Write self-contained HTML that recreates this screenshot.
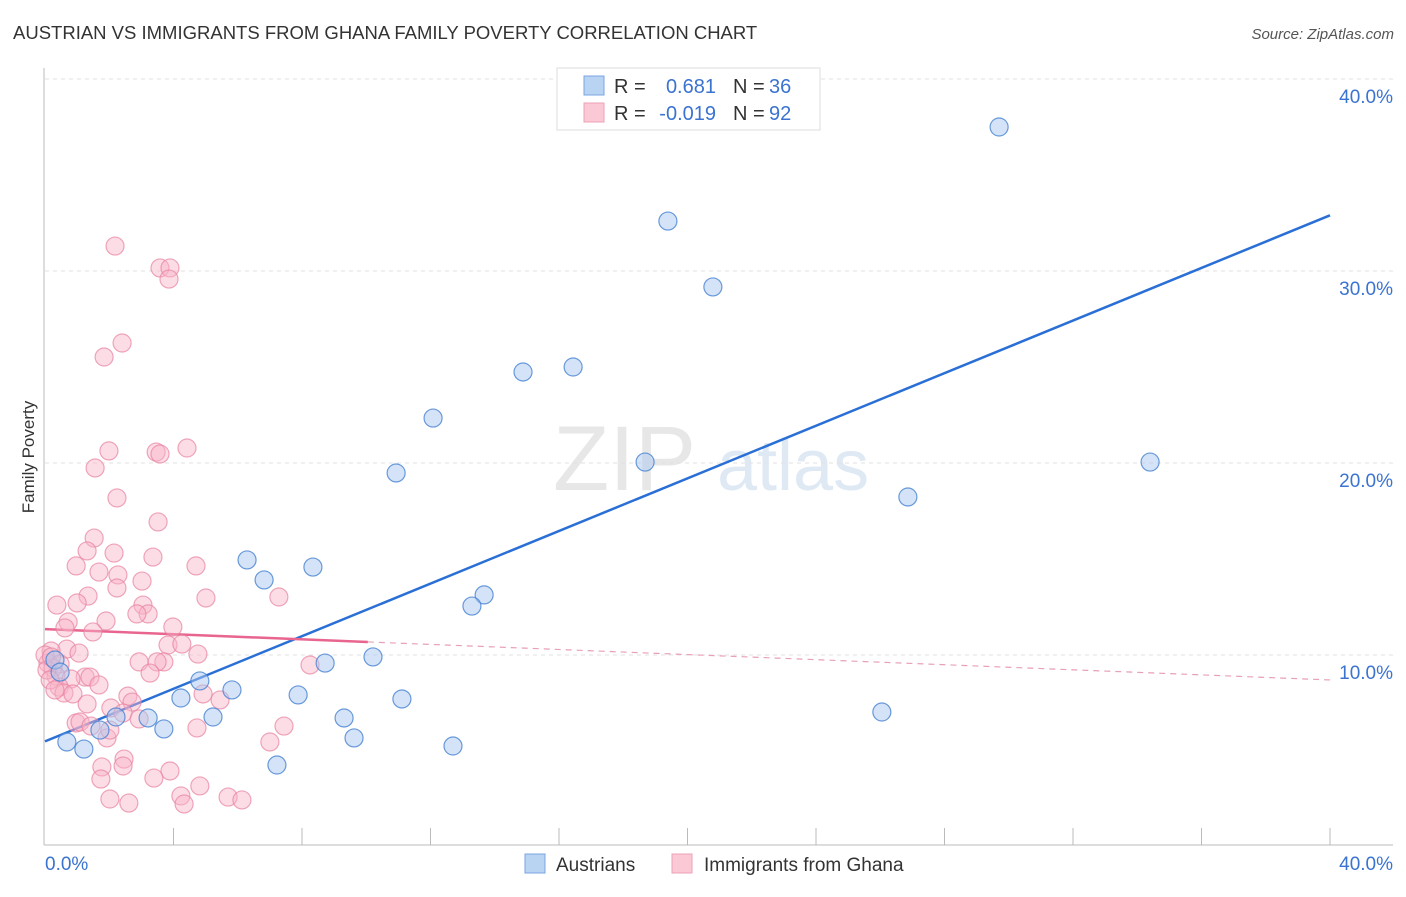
<!DOCTYPE html>
<html><head><meta charset="utf-8"><style>
body{margin:0;background:#fff;font-family:"Liberation Sans",sans-serif;}
svg text{font-family:"Liberation Sans",sans-serif;}
</style></head><body>
<svg id="chart" width="1406" height="892" xmlns="http://www.w3.org/2000/svg">
<text x="13" y="39" font-size="18.5" fill="#333">AUSTRIAN VS IMMIGRANTS FROM GHANA FAMILY POVERTY CORRELATION CHART</text>
<text x="1394" y="39" font-size="15" fill="#555" font-style="italic" text-anchor="end">Source: ZipAtlas.com</text>
<text transform="translate(34,457) rotate(-90)" font-size="17" fill="#333" text-anchor="middle">Family Poverty</text>
<g opacity="0.45">
<text x="553" y="490" font-size="92" fill="#ccc" font-family="Liberation Serif,serif">ZIP</text>
<text x="717" y="490" font-size="72" fill="#b8cfe8">atlas</text>
</g>
<g id="grid"></g>
<g id="axes"></g>
<g id="lines"></g>
<g id="points"></g>
<g>
<rect x="557" y="68" width="263" height="62" fill="#fff" stroke="#ddd"/>
<rect x="584" y="76" width="20" height="19" fill="#b9d3f3" stroke="#7aa6e0"/>
<rect x="584" y="103" width="20" height="19" fill="#fbc8d6" stroke="#eea0b6"/>
<text x="614" y="93" font-size="20" fill="#333">R =</text>
<text x="716" y="93" font-size="20" fill="#3a73d0" text-anchor="end">0.681</text>
<text x="733" y="93" font-size="20" fill="#333">N =</text>
<text x="769" y="93" font-size="20" fill="#3a73d0">36</text>
<text x="614" y="120" font-size="20" fill="#333">R =</text>
<text x="716" y="120" font-size="20" fill="#3a73d0" text-anchor="end">-0.019</text>
<text x="733" y="120" font-size="20" fill="#333">N =</text>
<text x="769" y="120" font-size="20" fill="#3a73d0">92</text>
</g>
<g>
<rect x="525" y="854" width="20" height="19" fill="#b9d3f3" stroke="#7aa6e0"/>
<text x="556" y="871" font-size="19" fill="#333">Austrians</text>
<rect x="672" y="854" width="20" height="19" fill="#fbc8d6" stroke="#eea0b6"/>
<text x="704" y="871" font-size="19" fill="#333">Immigrants from Ghana</text>
</g>
</svg>
<script>
const yTicks=[10,20,30,40];
const yTickLabels=["10.0%","20.0%","30.0%","40.0%"];
const xTickLabels=["0.0%","40.0%"];
const blueX=[29.70,19.39,20.79,16.44,14.88,12.08,10.93,18.68,34.40,26.86,6.29,8.34,6.82,13.67,13.29,8.72,10.21,4.82,5.82,4.23,7.88,11.11,5.23,2.21,3.21,9.31,26.05,3.70,1.71,9.62,0.68,12.70,1.21,7.22,0.31,0.47];
const blueY=[37.5,32.6,29.17,25.0,24.74,22.34,19.48,20.05,20.05,18.23,14.95,14.58,13.91,13.13,12.55,9.58,9.90,8.65,8.18,7.76,7.92,7.71,6.77,6.77,6.72,6.72,7.03,6.15,6.09,5.68,5.47,5.26,5.10,4.27,9.74,9.11];
const pinkX=[2.18,3.58,3.89,3.86,2.40,1.84,1.99,3.46,3.58,4.42,1.56,2.24,3.52,1.53,1.31,2.15,3.36,0.97,4.70,1.68,2.27,3.02,2.24,1.34,5.01,7.28,0.37,1.00,3.05,3.21,2.86,0.72,1.90,3.98,1.49,0.62,3.83,4.26,0.68,0.19,1.06,4.76,2.93,3.70,3.49,8.25,0.09,0.47,0.25,3.27,0.34,1.25,0.81,1.40,1.68,0.44,0.59,2.58,0.87,4.92,1.31,2.05,2.71,2.43,0.97,1.09,2.93,4.73,7.44,1.43,1.93,7.00,2.46,2.43,1.77,3.89,3.39,1.74,4.82,2.02,4.23,5.70,2.61,4.33,6.13,0,0.06,0.16,0.31,2.02,5.45,0.2];
const pinkY=[31.30,30.16,30.16,29.58,26.25,25.52,20.63,20.57,20.47,20.78,19.74,18.18,16.93,16.09,15.42,15.31,15.10,14.64,14.64,14.32,14.17,13.85,13.49,13.07,12.97,13.02,12.60,12.71,12.60,12.14,12.14,11.72,11.77,11.46,11.20,11.41,10.52,10.57,10.31,10.21,10.10,10.05,9.64,9.64,9.64,9.48,9.58,9.53,9.32,9.06,8.91,8.85,8.75,8.85,8.44,8.33,8.02,7.86,7.97,7.97,7.45,7.24,7.55,6.98,6.46,6.51,6.67,6.20,6.30,6.30,5.68,5.47,4.58,4.22,4.17,3.96,3.59,3.54,3.18,2.50,2.66,2.60,2.29,2.24,2.45,10.0,9.22,8.70,8.18,6.09,7.66,9.9];
const blueTrend=[[0,5.5],[40,32.9]];
const pinkTrend=[[0,11.35],[10.05,10.68],[40,8.70]];
const NS="http://www.w3.org/2000/svg";
const X=v=>45+v/40*1285, Y=v=>847-v*19.2;
function mk(tag,attrs,parent){const e=document.createElementNS(NS,tag);for(const k in attrs)e.setAttribute(k,attrs[k]);parent.appendChild(e);return e;}
const grid=document.getElementById('grid'),axes=document.getElementById('axes'),lines=document.getElementById('lines'),pts=document.getElementById('points');
yTicks.forEach((t,i)=>{
 const l=mk('line',{x1:45,x2:1393,y1:Y(t),y2:Y(t),stroke:'#e2e2e2','stroke-dasharray':'4,4'},grid);
 
 
 const tx=mk('text',{x:1393,y:Y(t)+24,'font-size':19,fill:'#3a73d0','text-anchor':'end'},axes);
 tx.textContent=yTickLabels[i];
 
 
});
let a=mk('line',{x1:44,x2:44,y1:68,y2:845,stroke:'#bbb'},axes);


a=mk('line',{x1:44,x2:1393,y1:845,y2:845,stroke:'#bbb'},axes);


for(let i=1;i<=10;i++){const t=mk('line',{x1:X(i*4),x2:X(i*4),y1:828,y2:845,stroke:'#bbb'},axes);
 
 }
[[0,'start',45],[40,'end',1393]].forEach((d,i)=>{const t=mk('text',{x:d[2],y:870,'font-size':19,fill:'#3a73d0','text-anchor':d[1]},axes);t.textContent=xTickLabels[i];
 
 });
function dot(x,y,f,s,n){const c=mk('circle',{cx:X(x),cy:Y(y),r:9,fill:f,stroke:s,'stroke-width':1.2},pts);
 
 }
pinkX.forEach((x,i)=>dot(x,pinkY[i],'rgba(248,180,200,0.45)','rgba(232,130,160,0.7)','ghana-point'));
blueX.forEach((x,i)=>dot(x,blueY[i],'rgba(170,200,240,0.5)','rgba(70,130,210,0.8)','austrian-point'));
let ln=mk('line',{x1:X(blueTrend[0][0]),y1:Y(blueTrend[0][1]),x2:X(blueTrend[1][0]),y2:Y(blueTrend[1][1]),stroke:'#2a6fd6','stroke-width':2.5},lines);


ln=mk('line',{x1:X(pinkTrend[0][0]),y1:Y(pinkTrend[0][1]),x2:X(pinkTrend[1][0]),y2:Y(pinkTrend[1][1]),stroke:'#e8658f','stroke-width':2.5},lines);


ln=mk('line',{x1:X(pinkTrend[1][0]),y1:Y(pinkTrend[1][1]),x2:X(pinkTrend[2][0]),y2:Y(pinkTrend[2][1]),stroke:'#e8a0b6','stroke-width':1.2,'stroke-dasharray':'6,5'},lines);


</script>
</body></html>
